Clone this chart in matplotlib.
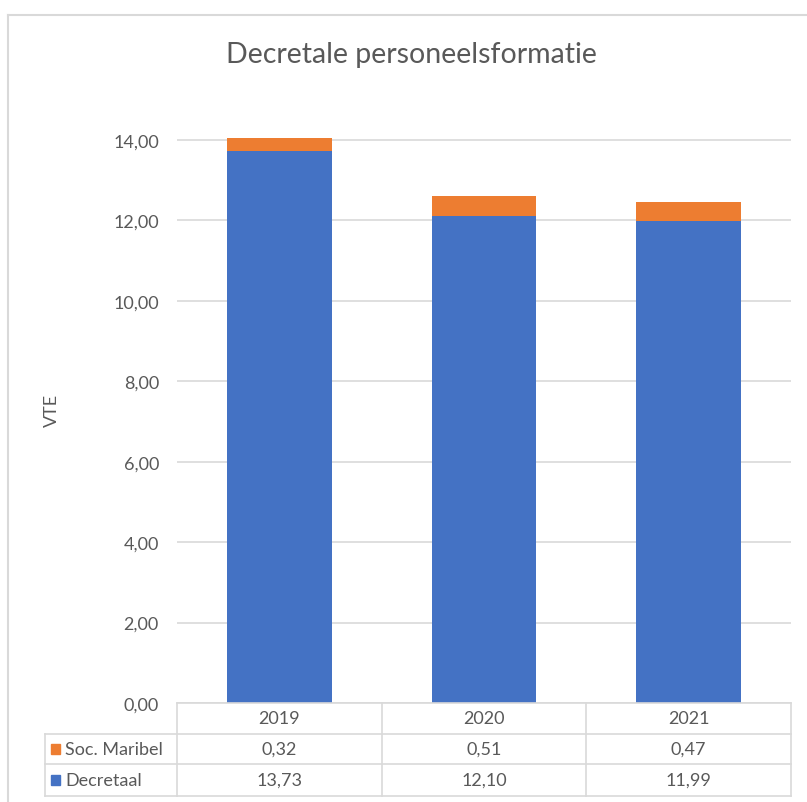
import matplotlib
matplotlib.use("Agg")
import matplotlib.pyplot as plt
from matplotlib.patches import Rectangle
from matplotlib.lines import Line2D
import matplotlib.transforms as mtransforms

years = ["2019", "2020", "2021"]
decretaal = [13.73, 12.10, 11.99]
soc_maribel = [0.32, 0.51, 0.47]
series_names = ["Soc. Maribel", "Decretaal"]
yticks = [0, 2, 4, 6, 8, 10, 12, 14]
title = "Decretale personeelsformatie"
ylabel = "VTE"

BLUE = "#4472C4"
ORANGE = "#ED7D31"
GRID = "#D9D9D9"
TXT = "#595959"
FS = 13

plt.rcParams['font.family'] = ['Lato', 'DejaVu Sans']

W, H = 807, 803
fig = plt.figure(figsize=(W / 100, H / 100), dpi=100)

def fx(px):
    return px / W

def fy(py):
    return 1 - py / H

# outer frame
fig.add_artist(Line2D([fx(8), fx(8)], [fy(16), 0], color=GRID, lw=1.5))
fig.add_artist(Line2D([fx(8), 1], [fy(16), fy(16)], color=GRID, lw=1.5))

ax_left, ax_right, ax_bottom, ax_top = 177, 791, 704, 125
ax = fig.add_axes([fx(ax_left), fy(ax_bottom), fx(ax_right - ax_left), (ax_bottom - ax_top) / H])

x = list(range(len(years)))
ax.bar(x, decretaal, width=0.51, color=BLUE, zorder=3)
ax.bar(x, soc_maribel, width=0.51, bottom=decretaal, color=ORANGE, zorder=3)
ax.set_xlim(-0.5, len(years) - 0.5)
ax.set_ylim(0, (ax_bottom - ax_top) / ((ax_bottom - 141) / 14))
ax.set_yticks(yticks)
ax.set_yticklabels([f"{v:.2f}".replace(".", ",") for v in yticks])
ax.set_xticks([])
ax.yaxis.grid(True, color=GRID, lw=1.2, zorder=0)
ax.tick_params(axis='y', length=0, pad=13, labelsize=FS, labelcolor=TXT)
for s in ax.spines.values():
    s.set_visible(False)

fig.text(fx(411), fy(55), title, ha='center', va='center', fontsize=20.5, color=TXT)
fig.text(fx(52), fy(410), ylabel, ha='center', va='center', rotation=90, fontsize=FS, color=TXT)

# data table
trans = mtransforms.blended_transform_factory(ax.transData, fig.transFigure)
edges = [-0.5 + i for i in range(len(years) + 1)]
row_top, row1, row2, row_bot = 704, 735, 765, 797
for e in edges:
    fig.add_artist(Line2D([e, e], [fy(row_top), fy(row_bot)], color=GRID, lw=1.2, transform=trans))
fig.add_artist(Line2D([edges[0], edges[-1]], [fy(row_top), fy(row_top)], color=GRID, lw=1.2, transform=trans))
for r in (row1, row2, row_bot):
    fig.add_artist(Line2D([fx(45), fx(ax_right)], [fy(r), fy(r)], color=GRID, lw=1.2))
fig.add_artist(Line2D([fx(45), fx(45)], [fy(row1), fy(row_bot)], color=GRID, lw=1.2))

for i, yr in enumerate(years):
    fig.text(i, fy((row_top + row1) / 2), yr, ha='center', va='center', fontsize=FS, color=TXT, transform=trans)
    fig.text(i, fy((row1 + row2) / 2), f"{soc_maribel[i]:.2f}".replace(".", ","), ha='center', va='center',
             fontsize=FS, color=TXT, transform=trans)
    fig.text(i, fy((row2 + row_bot) / 2), f"{decretaal[i]:.2f}".replace(".", ","), ha='center', va='center',
             fontsize=FS, color=TXT, transform=trans)

for name, color, (r0, r1) in [(series_names[0], ORANGE, (row1, row2)), (series_names[1], BLUE, (row2, row_bot))]:
    yc = (r0 + r1) / 2
    fig.add_artist(Rectangle((fx(51), fy(yc + 5)), fx(9), 10 / H, color=color, transform=fig.transFigure))
    fig.text(fx(65), fy(yc), name, ha='left', va='center', fontsize=FS, color=TXT)

fig.savefig("out.png", dpi=100)
